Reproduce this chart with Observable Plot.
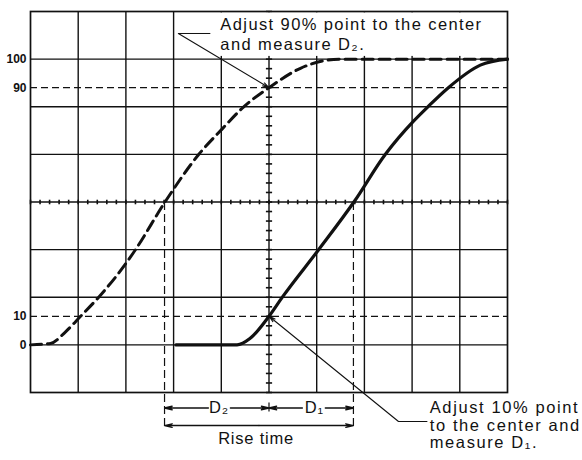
<!DOCTYPE html>
<html><head><meta charset="utf-8">
<script src="https://cdn.jsdelivr.net/npm/d3@7"></script>
<script src="https://cdn.jsdelivr.net/npm/@observablehq/plot@0.6"></script>
<style>body{margin:0;background:#fff}#chart{width:582px;height:460px}</style>
</head><body><div id="chart"></div>
<script>
// Solid trace (horizontal divisions, percent of amplitude)
const solidX   = [3.05, 4.33, 4.6, 5.0, 5.28, 6.04, 6.78, 7.44, 8.03, 8.33, 8.76, 9.43, 10.0];
const solidPct = [0,    0,    2.2, 10,  16.7, 33.3, 50,   66.7, 78.3, 83.3, 90,   97.9, 100];
// Dashed trace (same signal shifted so its 90% point sits on the centre line)
const dashedX   = [0, 0.42, 0.73, 1.05, 1.43, 2.0,  2.2,  2.82, 3.53, 4.02, 4.47, 5.0, 5.66, 6.5, 10];
const dashedPct = [0, 0.5,  4.5,  10,   16.7, 28.5, 33.3, 50,   66.7, 75.6, 83.3, 90,  96.8, 100, 100];
// Left-axis tick labels
const tickValues = [0, 10, 90, 100];
const tickLabels = ["0", "10", "90", "100"];
// Graticule: 10 x 8 divisions, 0% on division 1, 100% on division 7
const xDivs = d3.range(0, 11);
const yDivs = d3.range(0, 9).map(k => -100 / 6 + k * 100 / 6);
const minorX = d3.range(0, 51).map(k => k * 0.2);
const minorY = d3.range(0, 41).map(k => -100 / 6 + k * 100 / 30);
// Measurement points
const t10 = 5.0, t50solid = 6.77, t50dashed = 2.81;

const solid = solidX.map((x, i) => ({x, y: solidPct[i]}));
const dashed = dashedX.map((x, i) => ({x, y: dashedPct[i]}));

const ink = "#111";
const font = "Liberation Sans, Arial, Helvetica, sans-serif";

const plot = Plot.plot({
  width: 582, height: 460,
  marginLeft: 30, marginRight: 75, marginTop: 11, marginBottom: 68,
  x: {domain: [0, 10], axis: null},
  y: {domain: [-100 / 6, 100 + 100 / 6], axis: null},
  style: {fontFamily: font, background: "white", color: ink, overflow: "visible"},
  marks: [
    Plot.ruleX(xDivs.slice(1, -1), {stroke: ink, strokeWidth: 1.4}),
    Plot.ruleY(yDivs.slice(1, -1), {stroke: ink, strokeWidth: 1.4}),
    // minor ticks on centre lines
    Plot.link(minorX, {x1: d => d, x2: d => d, y1: 50 - 0.8, y2: 50 + 0.8, stroke: ink, strokeWidth: 1.6}),
    Plot.link(minorY, {x1: 5 - 0.065, x2: 5 + 0.065, y1: d => d, y2: d => d, stroke: ink, strokeWidth: 1.6}),
    // 10% and 90% reference lines
    Plot.ruleY([10, 90], {stroke: ink, strokeWidth: 1.2, strokeDasharray: "7,4"}),
    // vertical projections of the 50% points
    Plot.link([t50dashed, t50solid], {x1: d => d, x2: d => d, y1: 50, y2: -29.3, stroke: ink, strokeWidth: 1.2, strokeDasharray: "8,4"}),
    // white box behind the upper note
    Plot.rect([0], {x1: 3.86, x2: 9.97, y1: 100.95, y2: 116.2, fill: "white"}),
    Plot.frame({stroke: ink, strokeWidth: 1.7}),
    // traces
    Plot.line(dashed, {x: "x", y: "y", curve: "monotone-x", stroke: ink, strokeWidth: 3, strokeDasharray: "11,6"}),
    Plot.line(solid, {x: "x", y: "y", curve: "monotone-x", stroke: ink, strokeWidth: 3.2}),
    // upper leader
    Plot.link([0], {x1: 3.77, x2: 3.10, y1: 108.97, y2: 108.97, stroke: ink, strokeWidth: 1}),
    Plot.arrow([0], {x1: 3.10, y1: 108.97, x2: t10, y2: 90, stroke: ink, strokeWidth: 1.1, headLength: 9, headAngle: 30}),
    // lower leader
    Plot.arrow([0], {x1: 7.715, y1: -26.82, x2: t10, y2: 10, stroke: ink, strokeWidth: 1.1, headLength: 9, headAngle: 30}),
    Plot.link([0], {x1: 7.715, x2: 8.32, y1: -26.82, y2: -26.82, stroke: ink, strokeWidth: 1}),
    // dimension lines
    Plot.link([0], {x1: t10, x2: t10, y1: -20.2, y2: -23.3, stroke: ink, strokeWidth: 1.2}),
    Plot.arrow([
      {a: 3.73, b: t50dashed, y: -22.09}, {a: 4.19, b: t10, y: -22.09},
      {a: 5.70, b: t10, y: -22.09}, {a: 6.18, b: t50solid, y: -22.09},
      {a: 4.79, b: t50dashed, y: -28.22}, {a: 4.79, b: t50solid, y: -28.22}
    ], {x1: "a", x2: "b", y1: "y", y2: "y", stroke: ink, strokeWidth: 1.3, headLength: 9, headAngle: 26}),
    Plot.text(["D₂"], {x: 3.95, y: -24.0, text: d => d, fontSize: 16.5, fill: ink, lineAnchor: "bottom", ariaDescription: "note"}),
    Plot.text(["D₁"], {x: 5.95, y: -24.0, text: d => d, fontSize: 16.5, fill: ink, lineAnchor: "bottom", ariaDescription: "note"}),
    Plot.text(["Rise time"], {x: 4.73, y: -34.86, text: d => d, fontSize: 16.5, fill: ink, lineAnchor: "bottom", ariaDescription: "note"}),
    // notes
    Plot.text([
      {t: "Adjust 90% point to the center", y: 110.26},
      {t: "and measure D₂.", y: 103.26}
    ], {x: 3.98, y: "y", text: "t", textAnchor: "start", lineAnchor: "bottom", fontSize: 16.5, fill: ink, ariaDescription: "topnote"}),
    Plot.text([
      {t: "Adjust 10% point", y: -23.91},
      {t: "to the center and", y: -29.97},
      {t: "measure D₁.", y: -35.92}
    ], {x: 8.37, y: "y", text: "t", textAnchor: "start", lineAnchor: "bottom", fontSize: 16.5, fill: ink, ariaDescription: "botnote"}),
    // left axis labels
    Plot.axisY(tickValues, {tickSize: 0, tickPadding: 4, tickFormat: (d, i) => tickLabels[i], label: null,
      fontSize: 12, fontWeight: "bold", fill: ink})
  ]
});
document.getElementById("chart").appendChild(plot);
d3.select(plot).selectAll('g[aria-description="topnote"] text').attr("letter-spacing", "1.4px");
d3.select(plot).selectAll('g[aria-description="botnote"] text').attr("letter-spacing", "1.6px");
d3.select(plot).selectAll('g[aria-description="note"] text').attr("letter-spacing", "0.8px");
</script>
</body></html>
